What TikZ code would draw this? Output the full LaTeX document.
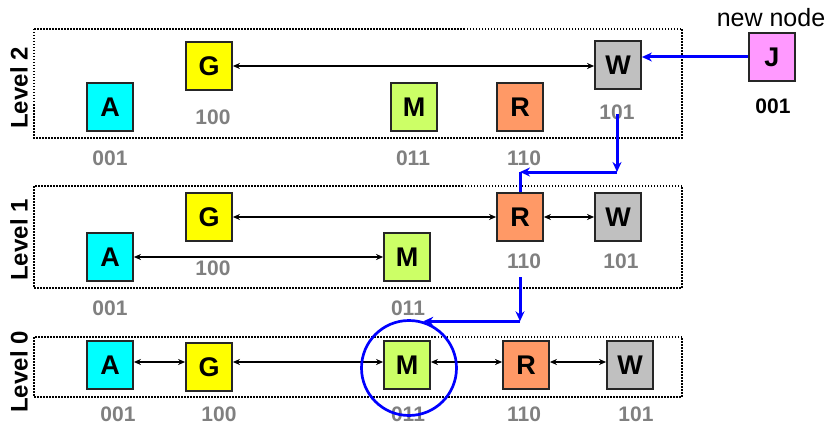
\documentclass[tikz,border=0pt]{standalone}
\usepackage{fontspec}
\setmainfont{Liberation Sans}
\usepackage{tikz}
\usetikzlibrary{arrows.meta,positioning,calc}
\usepackage{xcolor}
\definecolor{skcyan}{RGB}{0,255,255}
\definecolor{skyellow}{RGB}{255,255,0}
\definecolor{sklime}{RGB}{204,255,102}
\definecolor{skorange}{RGB}{255,153,102}
\definecolor{skgray}{RGB}{192,192,192}
\definecolor{skpink}{RGB}{255,153,255}
\definecolor{skblue}{RGB}{0,0,255}
\definecolor{skid}{RGB}{128,128,128}
\tikzstyle{peer} = [rectangle, minimum width=46pt, minimum height=48pt, inner sep=0pt, draw=black!85, line width=1.8pt, font=\fontsize{27}{27}\selectfont\bfseries]
\tikzstyle{idlabel} = [inner sep=1pt, text=skid, font=\fontsize{21}{21}\selectfont\bfseries]
\tikzstyle{levelbox} = [draw, line width=1.5pt, dash pattern=on 1.5pt off 1.5pt]
\tikzstyle{levelname} = [rotate=90, inner sep=1pt, font=\fontsize{24}{24}\selectfont\bfseries]
\tikzstyle{link} = [line width=1.3pt, {Stealth[length=7pt,width=6pt]}-{Stealth[length=7pt,width=6pt]}]
\tikzstyle{route} = [line width=3pt, -{Stealth[length=10pt,width=9pt]}, color=skblue]

\begin{document}
\begin{tikzpicture}[x=1pt, y=-1pt]
    \useasboundingbox (0,0) rectangle (831,428);

    % Frames
    \draw[levelbox] (34,29) rectangle (682,138);
    \draw[levelbox] (34,186) rectangle (682,288);
    \draw[levelbox] (34,337) rectangle (682,397);
    \node[levelname] (lvl2) at (19,88) {Level 2};
    \node[levelname] (lvl1) at (19,240) {Level 1};
    \node[levelname] (lvl0) at (19,372) {Level 0};

    % Level 2
    \node[peer, fill=skcyan] (A2) at (110,107) {A};
    \node[peer, fill=skyellow] (G2) at (209,66) {G};
    \node[peer, fill=sklime] (M2) at (414,107) {M};
    \node[peer, fill=skorange] (R2) at (520,107) {R};
    \node[peer, fill=skgray] (W2) at (618,65) {W};
    \node[idlabel] (A2id) at (110,158) {001};
    \node[idlabel] (G2id) at (213,117) {100};
    \node[idlabel] (M2id) at (413,158) {011};
    \node[idlabel] (R2id) at (524,158) {110};
    \node[idlabel] (W2id) at (617,112) {101};

    % Level 1
    \node[peer, fill=skcyan] (A1) at (110,257) {A};
    \node[peer, fill=skyellow] (G1) at (209,217) {G};
    \node[peer, fill=sklime] (M1) at (407,257) {M};
    \node[peer, fill=skorange] (R1) at (520,217) {R};
    \node[peer, fill=skgray] (W1) at (618,217) {W};
    \node[idlabel] (A1id) at (110,308) {001};
    \node[idlabel] (G1id) at (213,268) {100};
    \node[idlabel] (M1id) at (408,308) {011};
    \node[idlabel] (R1id) at (524,261) {110};
    \node[idlabel] (W1id) at (621,261) {101};

    % Level 0
    \node[peer, fill=skcyan] (A0) at (110,365) {A};
    \node[peer, fill=skyellow] (G0) at (209,367) {G};
    \node[peer, fill=sklime] (M0) at (407,365) {M};
    \node[peer, fill=skorange] (R0) at (526,365) {R};
    \node[peer, fill=skgray] (W0) at (630,365) {W};
    \node[idlabel] (A0id) at (118,414) {001};
    \node[idlabel] (G0id) at (219,414) {100};
    \node[idlabel] (M0id) at (408,414) {011};
    \node[idlabel] (R0id) at (524,414) {110};
    \node[idlabel] (W0id) at (636,414) {101};

    % New node
    \node[peer, fill=skpink] (J) at (772,57) {J};
    \node[idlabel, text=black] (Jid) at (773,106) {001};
    \node[inner sep=1pt, font=\fontsize{25}{25}\selectfont] (newtag) at (771,18) {new node};

    % Links
    \draw[link] (G2.east) -- (G2.east -| W2.west);
    \draw[link] (G1.east) -- (G1.east -| R1.west);
    \draw[link] (A1.east) -- (A1.east -| M1.west);
    \draw[link] (R1.east) -- (W1.west);
    \draw[link] ([yshift=3pt]A0.east) -- ([yshift=3pt]A0.east -| G0.west);
    \draw[link] ([yshift=3pt]A0.east -| G0.east) -- ([yshift=3pt]A0.east -| M0.west);
    \draw[link] ([yshift=3pt]A0.east -| M0.east) -- ([yshift=3pt]A0.east -| R0.west);
    \draw[link] ([yshift=3pt]R0.east) -- ([yshift=3pt]W0.west);

    % Join route
    \node[circle, draw=skblue, line width=2.7pt, minimum size=95pt, inner sep=0pt] (focus) at (409,368) {};
    \coordinate (bendA) at (617,172);
    \coordinate (bendB) at (520,172);
    \coordinate (startC) at (520,277);
    \coordinate (bendC) at (R1 |- focus.73);
    \draw[route] (J.west) -- (J.west -| W2.east);
    \draw[route] ([yshift=-2pt]W2id.center) -- (bendA);
    \draw[route] (bendA) -- (bendB);
    \draw[route, -] (bendB) -- (R1.north);
    \draw[route] (startC) -- (bendC);
    \draw[route] (bendC) -- (focus.73);
\end{tikzpicture}
\end{document}
